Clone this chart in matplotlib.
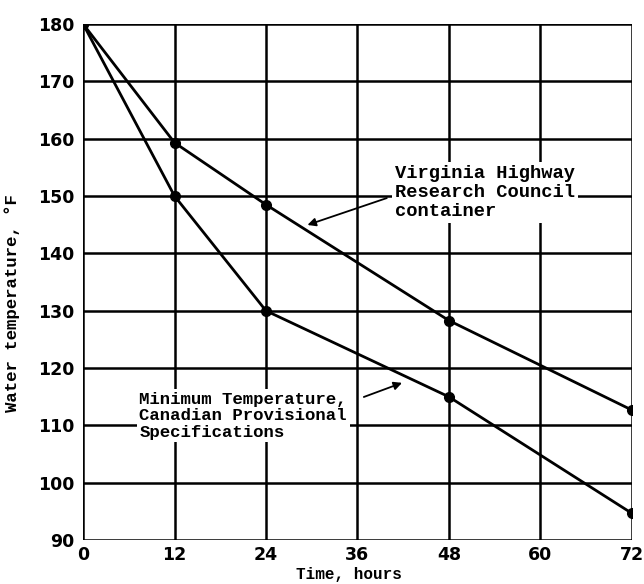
import numpy as np
import matplotlib
matplotlib.use("Agg")
import matplotlib.pyplot as plt

# time, hours
hours = [0, 12, 24, 48, 72]
# water temperature, deg F
virginia = [180, 159.3, 148.5, 128.3, 112.7]
canadian = [180, 150, 130, 115, 94.7]

x_ticks = [0, 12, 24, 36, 48, 60, 72]
y_ticks = [90, 100, 110, 120, 130, 140, 150, 160, 170, 180]

virginia_label = "Virginia Highway\nResearch Council\ncontainer"
canadian_label = "Minimum Temperature,\nCanadian Provisional\nSpecifications"

mono = "Liberation Mono"

fig = plt.figure(figsize=(6.44, 5.84), dpi=100)
ax = fig.add_axes([0.129, 0.075, 0.852, 0.884])

for t in x_ticks:
    ax.axvline(t, color="black", lw=1.8, zorder=1)
for t in y_ticks:
    ax.axhline(t, color="black", lw=1.8, zorder=1)

ax.plot(hours, virginia, color="black", lw=2, marker="o", ms=7, zorder=3)
ax.plot(hours, canadian, color="black", lw=2, marker="o", ms=7, zorder=3)

ax.set_xlim(0, 72)
ax.set_ylim(90, 180)
ax.set_xticks(x_ticks)
ax.set_yticks(y_ticks)
ax.tick_params(axis="y", length=0, labelsize=12.5, pad=6)
ax.tick_params(axis="x", length=0, labelsize=12.5, pad=4)
for lab in ax.get_xticklabels() + ax.get_yticklabels():
    lab.set_fontweight("bold")
for s in ax.spines.values():
    s.set_visible(False)

ax.set_xlabel("Time, hours", fontfamily=mono, fontweight="bold", fontsize=11.5)
ax.xaxis.set_label_coords(0.485, -0.052)
ax.xaxis.label.set_va("top")
ax.set_ylabel("Water temperature, \u00b0F", fontfamily=mono, fontweight="bold", fontsize=12.5)
ax.yaxis.set_label_coords(-0.115, 0.46)

ax.text(40.9, 155.4, virginia_label, fontfamily=mono, fontweight="bold", fontsize=13.5,
        va="top", ha="left", linespacing=1.15, zorder=4,
        bbox=dict(facecolor="white", edgecolor="none", pad=2))
ax.annotate("", xy=(29.1, 144.8), xytext=(40.2, 149.8),
            arrowprops=dict(arrowstyle="-|>", color="black", lw=1.3, mutation_scale=12), zorder=5)

ax.text(7.4, 115.8, canadian_label, fontfamily=mono, fontweight="bold", fontsize=12.5,
        va="top", ha="left", linespacing=1.1, zorder=4,
        bbox=dict(facecolor="white", edgecolor="none", pad=2))
ax.annotate("", xy=(42.2, 117.6), xytext=(36.5, 114.8),
            arrowprops=dict(arrowstyle="-|>", color="black", lw=1.3, mutation_scale=12), zorder=5)

fig.savefig("out.png", dpi=100)
